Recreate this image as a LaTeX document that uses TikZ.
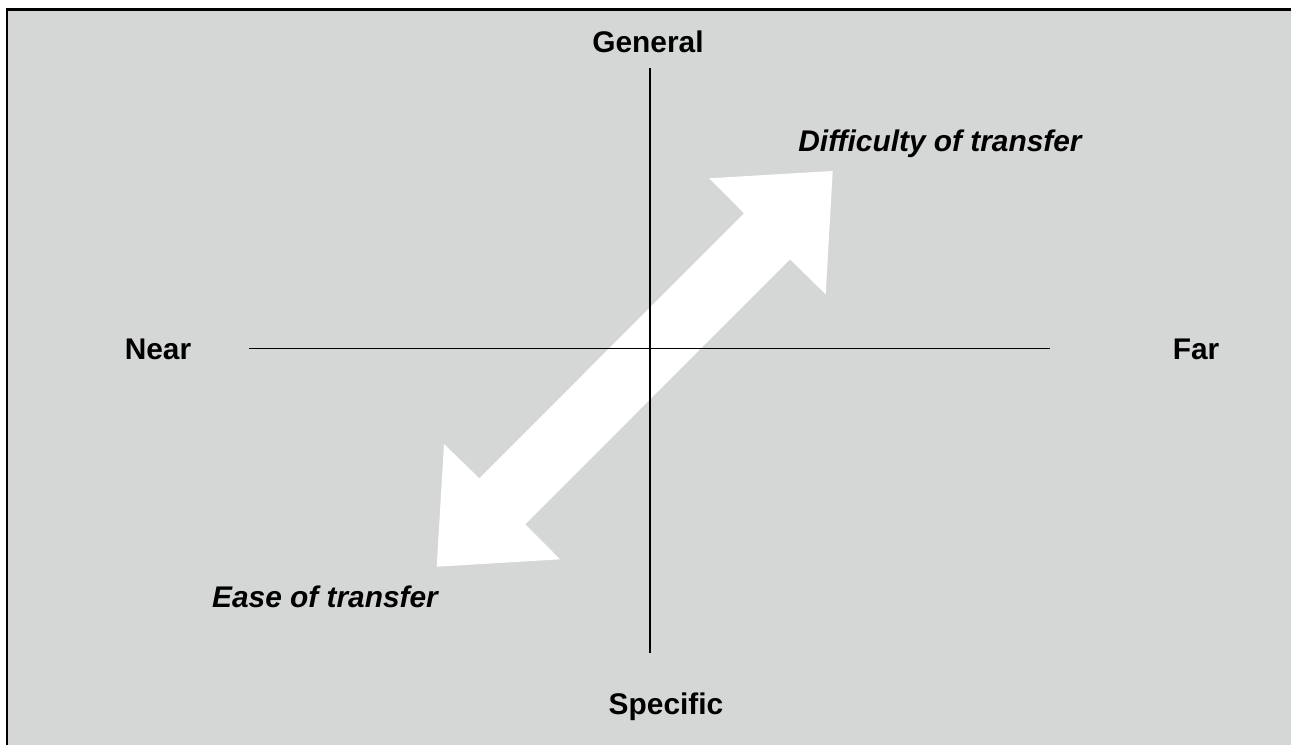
\documentclass[tikz,border=0pt]{standalone}
\usepackage{fontspec}
\setmainfont{Liberation Sans}
\definecolor{panelgray}{HTML}{D5D7D6}

\begin{document}
\begin{tikzpicture}[x=0.02cm, y=-0.02cm,
    axislabel/.style={font=\fontsize{17}{20}\selectfont\bfseries, anchor=base, inner sep=0pt},
    trendlabel/.style={font=\fontsize{17}{20}\selectfont\bfseries\itshape, anchor=base, inner sep=0pt},
    axisline/.style={black, line width=0.75pt},
    frameline/.style={black, line width=1.4pt},
    fatarrow/.style={fill=white, draw=none}
]

\useasboundingbox (0,0) rectangle (1291,745);
\fill[white] (0,0) rectangle (1291,745);

% grey panel, only its top and left edges show
\fill[panelgray] (7,9.5) rectangle (1291,745);
\draw[frameline] (7,745) -- (7,9.5) -- (1291,9.5);

% broad double arrow between the two corners
\fill[fatarrow] (832.7,171) -- (709.3,178.3) -- (744,213.3) -- (479.3,478.3)
  -- (444,444) -- (436.7,566.7) -- (560,559.3) -- (525.3,524.3)
  -- (790,259.3) -- (825.7,294.3) -- cycle;

% axes
\coordinate (top) at (650,68);
\coordinate (bottom) at (650,653);
\coordinate (left) at (249,348.5);
\coordinate (right) at (1050,348.5);
\draw[axisline] (top) -- (bottom);
\draw[axisline] (left) -- (right);

\node[axislabel] (general) at (648,52) {General};
\node[axislabel] (specific) at (666,714) {Specific};
\node[axislabel] (near) at (158,359.5) {Near};
\node[axislabel] (far) at (1196,359.5) {Far};

\node[trendlabel] (difficulty) at (940,151) {Difficulty of transfer};
\node[trendlabel] (ease) at (325,607) {Ease of transfer};

\end{tikzpicture}
\end{document}
